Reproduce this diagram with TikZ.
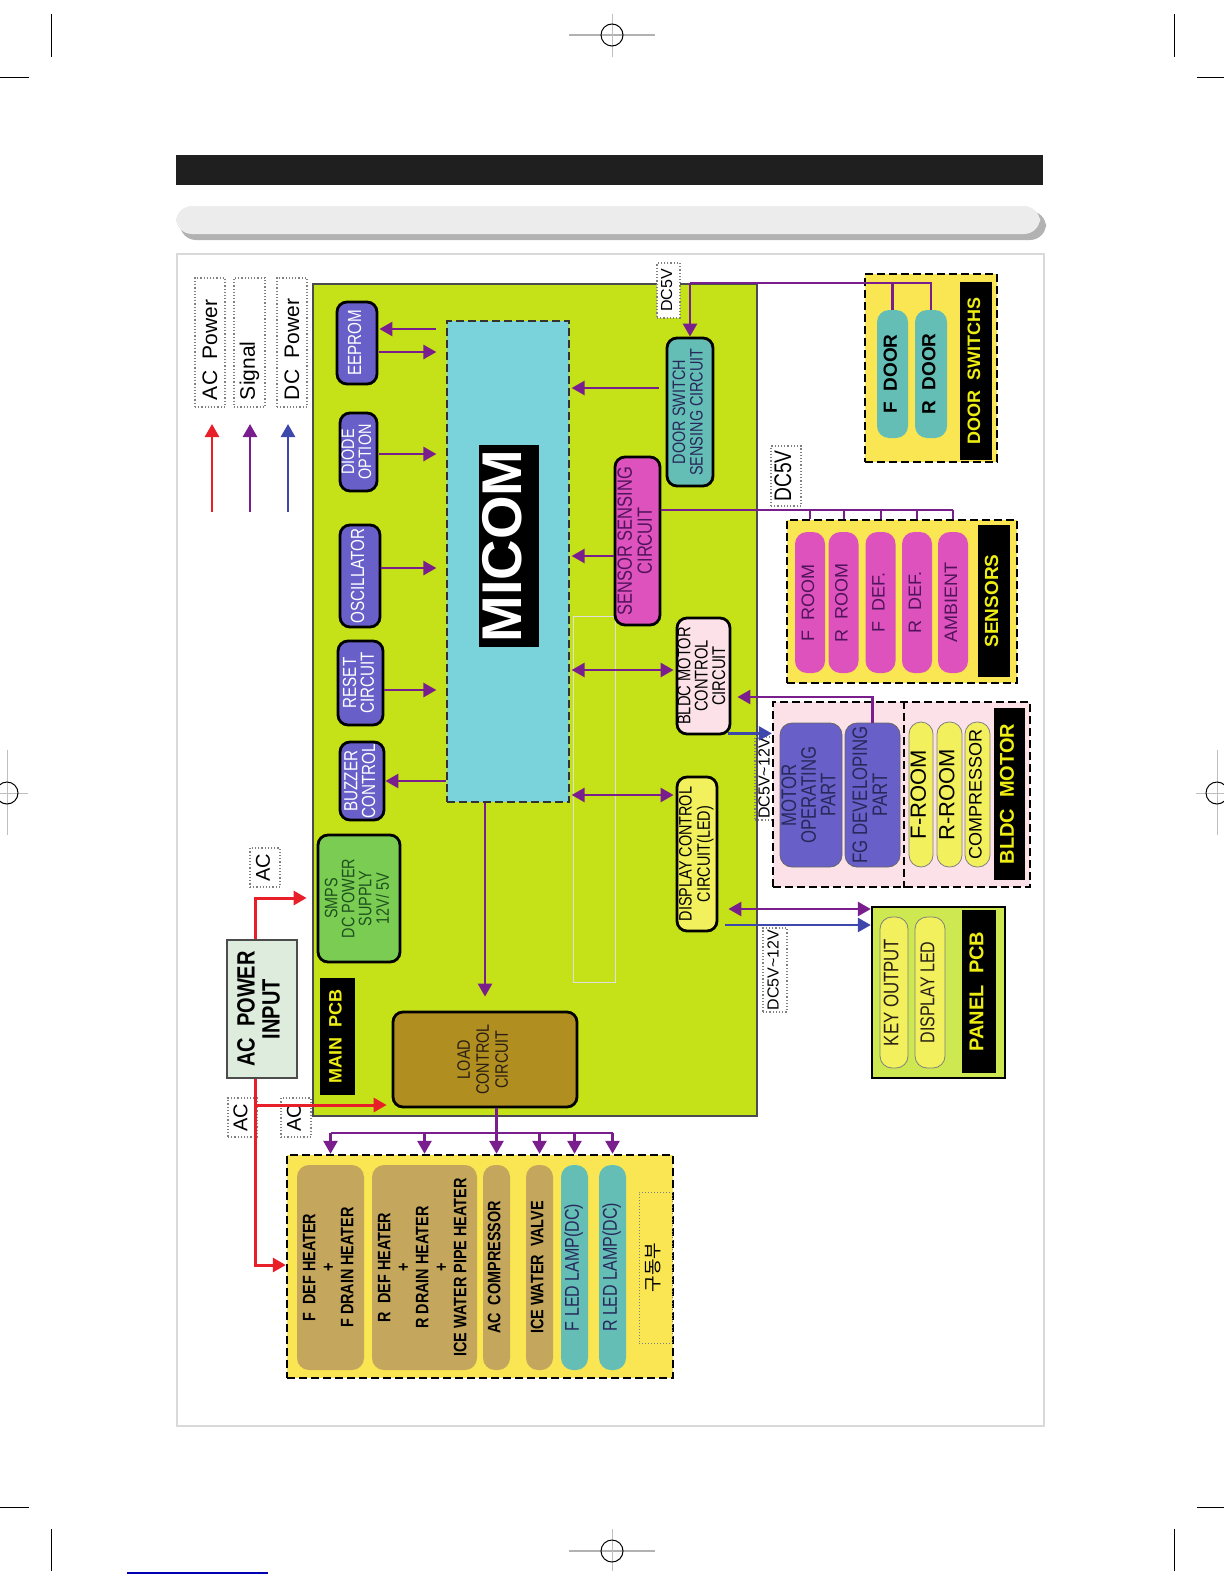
\documentclass[tikz,border=0pt]{standalone}
\usepackage{fontspec}
\setmainfont{Liberation Sans}
\newfontfamily\condfont[FakeStretch=0.8]{Liberation Sans}
\newfontfamily\krfont{Noto Sans CJK KR}
\usepackage{graphicx}
\usepackage{xcolor}
\usepackage{tikz}
\usetikzlibrary{arrows.meta, positioning, calc}

\definecolor{pcbgreen}{RGB}{197,225,24}
\definecolor{micomcyan}{RGB}{122,210,218}
\definecolor{violetbox}{RGB}{104,96,200}
\definecolor{smpsgreen}{RGB}{122,205,82}
\definecolor{loadbrown}{RGB}{176,142,32}
\definecolor{tealbox}{RGB}{100,190,182}
\definecolor{magbox}{RGB}{222,82,190}
\definecolor{pinkbox}{RGB}{252,226,232}
\definecolor{dispyellow}{RGB}{242,240,92}
\definecolor{grpyellow}{RGB}{250,230,82}
\definecolor{panelgreen}{RGB}{205,232,80}
\definecolor{tanpill}{RGB}{196,166,92}
\definecolor{acred}{RGB}{232,30,40}
\definecolor{sigpurple}{RGB}{122,30,142}
\definecolor{dcblue}{RGB}{62,72,172}
\definecolor{lblyellow}{RGB}{238,238,20}
\definecolor{acgreen}{RGB}{222,236,222}
\definecolor{txtnavy}{RGB}{40,40,90}
\definecolor{txtdark}{RGB}{40,30,20}
\definecolor{txtgreen}{RGB}{30,80,30}
\definecolor{txtplum}{RGB}{80,20,90}

\newcommand{\fs}[2]{\fontsize{#1}{#2}\selectfont}
\newcommand{\vt}[1]{\rotatebox{90}{\begin{tabular}{@{}c@{}}#1\end{tabular}}}
\newcommand{\vl}[2]{\rotatebox{90}{\makebox[#1][l]{#2}}}

\begin{document}
\begin{tikzpicture}[x=0.5pt, y=-0.5pt,
    >={Triangle[length=6.5pt,width=7pt]},
    wh/.style 2 args={minimum width=#1*0.5pt, minimum height=#2*0.5pt},
    box/.style={draw=black, line width=1.4pt, rounded corners=5pt, inner sep=0pt},
    pill/.style={rounded corners=6pt, inner sep=0pt},
    grp/.style={draw=black, line width=1.2pt, dash pattern=on 4pt off 2pt, inner sep=0pt},
    tag/.style={fill=black, text=lblyellow, inner sep=0pt},
    vlbl/.style={draw=gray, densely dotted, fill=white, line width=0.6pt, inner sep=0pt},
    sline/.style={sigpurple, line width=1.3pt},
    sarrow/.style={sline, ->},
    sdarrow/.style={sline, <->},
    acarrow/.style={acred, line width=1.5pt, ->},
    dcarrow/.style={dcblue, line width=1.3pt, ->}]
  \useasboundingbox (0,0) rectangle (1224,1584);

  % page marks
  \draw[line width=0.5pt] (51,14) -- (51,57) (1174,14) -- (1174,57) (0,78) -- (29,78) (1197,78) -- (1224,78);
  \draw[line width=0.5pt] (51,1529) -- (51,1571) (1174,1529) -- (1174,1571) (0,1507) -- (29,1507) (1197,1507) -- (1224,1507);
  \draw[gray!60, line width=1pt] (569,35) -- (655,35) (569,1551) -- (655,1551);
  \draw[gray!50, line width=0.4pt] (612,14) -- (612,57) (612,1529) -- (612,1571) (7,750) -- (7,835) (1217,750) -- (1217,835) (0,793) -- (28,793) (1196,793) -- (1224,793);
  \draw[line width=0.5pt] (612,35) circle[radius=5.5pt] (612,1551) circle[radius=5.5pt] (7,793) circle[radius=5.5pt] (1217,793) circle[radius=5.5pt];
  \draw[blue!70!black, line width=1pt] (127,1573) -- (268,1573);

  % header
  \fill[black!88] (176,155) rectangle (1043,185);
  \fill[gray!60, rounded corners=8pt] (180,211) rectangle (1046,240);
  \fill[gray!15, rounded corners=8pt] (176,206) rectangle (1040,234);
  \draw[gray!30, line width=0.8pt] (177,254) rectangle (1044,1426);

  % legend
  \node[vlbl, wh={30}{129}, font=\fs{10.5}{12}] (lgac) at (210,342.5) {\vl{61pt}{\,AC\ \ Power}};
  \node[vlbl, wh={31}{129}, font=\fs{10.5}{12}] (lgsig) at (249.5,342.5) {\vl{61pt}{\,Signal}};
  \node[vlbl, wh={30}{129}, font=\fs{10.5}{12}] (lgdc) at (292,342.5) {\vl{61pt}{\,DC\ \ Power}};
  \coordinate (lga) at (212,512);
  \coordinate (lgs) at (250,512);
  \coordinate (lgd) at (288,512);
  \draw[acarrow, line width=1.3pt] (lga) -- ++(0,-88);
  \draw[sarrow] (lgs) -- ++(0,-88);
  \draw[dcarrow] (lgd) -- ++(0,-88);

  % main pcb
  \node[draw=black!70, line width=1pt, fill=pcbgreen, wh={444}{832}, inner sep=0pt] (mainpcb) at (535,700) {};
  \draw[gray!25, line width=0.5pt] (573,616) rectangle (615,982);
  \node[fill=micomcyan, draw=black!80, line width=1.2pt, dash pattern=on 4pt off 2pt, wh={122}{481}, inner sep=0pt] (micom) at (508,561.5) {};
  \node[fill=black, text=white, wh={58}{202}, inner sep=0pt, font=\bfseries\fs{28}{30}] (miclbl) at (509,546) {\vt{MICOM}};

  \node[box, fill=violetbox, text=white, wh={40}{82}, font=\condfont\fs{9.5}{8}] (eeprom) at (357,343) {\vt{EEPROM}};
  \node[box, fill=violetbox, text=white, wh={37}{78}, font=\condfont\fs{9}{7.5}] (diode) at (358.5,452) {\vt{DIODE\\OPTION}};
  \node[box, fill=violetbox, text=white, wh={40}{102}, font=\condfont\fs{9.5}{8}] (osc) at (360,576) {\vt{OSCILLATOR}};
  \node[box, fill=violetbox, text=white, wh={45}{84}, font=\condfont\fs{9.5}{7.5}] (reset) at (360.5,683) {\vt{RESET\\CIRCUIT}};
  \node[box, fill=violetbox, text=white, wh={44}{78}, font=\condfont\fs{9.5}{7.5}] (buzzer) at (362,781) {\vt{BUZZER\\CONTROL}};
  \node[box, fill=smpsgreen, text=txtgreen, wh={82}{127}, font=\condfont\fs{9}{7.3}] (smps) at (359,898.5) {\vt{SMPS\\DC POWER\\SUPPLY\\12V/ 5V}};
  \node[tag, wh={35}{117}, font=\bfseries\fs{9}{10}] (pcblbl) at (337.5,1036.5) {\vt{MAIN\ \ PCB}};
  \node[box, fill=loadbrown, text=txtdark, wh={184}{95}, font=\condfont\fs{9}{9.5}] (load) at (485,1059.5) {\vt{LOAD\\CONTROL\\CIRCUIT}};
  \node[box, fill=tealbox, text=txtnavy, wh={46}{148}, font=\condfont\fs{9}{8}] (dsense) at (690,412) {\vt{DOOR SWITCH\\SENSING CIRCUIT}};
  \node[box, fill=magbox, text=txtplum, wh={45}{168}, font=\condfont\fs{10.3}{9.5}] (ssense) at (637.5,541) {\vt{SENSOR SENSING\\CIRCUIT}};
  \node[box, fill=pinkbox, text=black, wh={53}{116}, font=\condfont\fs{9.2}{7.5}] (bldcc) at (703.5,676) {\vt{BLDC MOTOR\\CONTROL\\CIRCUIT}};
  \node[box, fill=dispyellow, text=black, wh={40}{154}, font=\condfont\fs{9}{8.5}] (disp) at (697,854) {\vt{DISPLAY CONTROL\\CIRCUIT(LED)}};

  % voltage tags
  \node[vlbl, wh={23}{55}, font=\fs{8}{9}] (dc5a) at (668.5,290.5) {\vt{DC5V}};
  \node[vlbl, wh={30}{60}, font=\condfont\fs{12}{13}] (dc5b) at (786,476) {\vt{DC5V}};
  \node[vlbl, fill=none, wh={22}{83}, font=\fs{8}{9}] (dc12a) at (766,778.5) {\vt{DC5V\textasciitilde12V}};
  \node[vlbl, wh={24}{84}, font=\fs{8}{9}] (dc12b) at (775,970) {\vt{DC5V\textasciitilde12V}};

  % door switches
  \node[grp, fill=grpyellow, wh={132}{188}] (dgrp) at (931,368) {};
  \node[pill, fill=tealbox, wh={31}{128}, font=\bfseries\fs{9.5}{11}] (fdoor) at (892.5,374) {\vt{F\ \ DOOR}};
  \node[pill, fill=tealbox, wh={32}{128}, font=\bfseries\fs{9.5}{11}] (rdoor) at (931,374) {\vt{R\ \ DOOR}};
  \node[tag, wh={32}{178}, font=\bfseries\fs{9}{10}] (dlbl) at (976,371) {\vt{DOOR\ \ SWITCHS}};

  % sensors
  \node[grp, fill=grpyellow, wh={230}{163}] (sgrp) at (902,601.5) {};
  \node[pill, fill=magbox, text=txtplum, wh={30}{141}, font=\fs{9}{10}] (froom) at (810,602.5) {\vt{F\ \ ROOM}};
  \node[pill, fill=magbox, text=txtplum, wh={30}{141}, font=\fs{9}{10}] (rroom) at (843.5,602.5) {\vt{R\ \ ROOM}};
  \node[pill, fill=magbox, text=txtplum, wh={30}{141}, font=\fs{9}{10}] (fdef) at (880.5,602.5) {\vt{F\ \ DEF.}};
  \node[pill, fill=magbox, text=txtplum, wh={30}{141}, font=\fs{9}{10}] (rdef) at (917,602.5) {\vt{R\ \ DEF.}};
  \node[pill, fill=magbox, text=txtplum, wh={30}{141}, font=\fs{9}{10}] (amb) at (953,602.5) {\vt{AMBIENT}};
  \node[tag, wh={32}{152}, font=\bfseries\fs{9.5}{10}] (slbl) at (994,601) {\vt{SENSORS}};

  % bldc motor
  \node[grp, fill=pinkbox, wh={257}{185}] (mgrp) at (901.5,794.5) {};
  \draw[black, line width=1.2pt, dash pattern=on 4pt off 2pt] ($(mgrp.north west)+(132,0)$) -- ($(mgrp.south west)+(132,0)$);
  \node[pill, fill=violetbox, draw=black!60, thin, text=txtnavy, wh={62}{144}, font=\condfont\fs{10.5}{8.5}] (motop) at (811,795) {\vt{MOTOR\\OPERATING\\PART}};
  \node[pill, fill=violetbox, draw=black!60, thin, text=txtnavy, wh={55}{144}, font=\condfont\fs{10.5}{9}] (fgdev) at (872.5,795) {\vt{FG DEVELOPING\\PART}};
  \node[pill, fill=dispyellow, draw=black!50, thin, wh={24}{145}, font=\fs{11}{12}] (froomm) at (921,794.5) {\vt{F-ROOM}};
  \node[pill, fill=dispyellow, draw=black!50, thin, wh={25}{145}, font=\fs{11}{12}] (rroomm) at (949.5,794.5) {\vt{R-ROOM}};
  \node[pill, fill=dispyellow, draw=black!50, thin, wh={25}{145}, font=\fs{9}{10}] (compm) at (977.5,794.5) {\vt{COMPRESSOR}};
  \node[tag, wh={31}{172}, font=\bfseries\fs{10}{11}] (mlbl) at (1009.5,794) {\vt{BLDC\ \ MOTOR}};

  % panel pcb
  \node[draw=black, line width=1.2pt, fill=panelgreen, wh={133}{171}, inner sep=0pt] (panel) at (938.5,992.5) {};
  \node[pill, fill=dispyellow, draw=black!50, thin, text=txtdark, wh={28}{151}, font=\condfont\fs{10.5}{11}] (keyout) at (894,992.5) {\vt{KEY OUTPUT}};
  \node[pill, fill=dispyellow, draw=black!50, thin, text=txtdark, wh={30}{151}, font=\condfont\fs{10}{11}] (dled) at (930,992.5) {\vt{DISPLAY LED}};
  \node[tag, wh={34}{163}, font=\bfseries\fs{10}{11}] (plbl) at (979,991.5) {\vt{PANEL\ \ PCB}};

  % ac input
  \node[draw=black!70, line width=0.8pt, fill=acgreen, wh={70}{138}, inner sep=0pt, font=\condfont\bfseries\fs{12.5}{12.5}] (acin) at (262,1009) {\vt{AC\ \ POWER\\INPUT}};
  \node[vlbl, wh={30}{39}, font=\fs{10}{12}] (acl1) at (265,867.5) {\vt{AC}};
  \node[vlbl, wh={29}{39}, font=\fs{10}{12}] (acl2) at (242.5,1117.5) {\vt{AC}};
  \node[vlbl, wh={30}{39}, font=\fs{10}{12}] (acl3) at (296,1117.5) {\vt{AC}};

  % loads
  \node[grp, fill=grpyellow, wh={386}{223}] (lgrp) at (480,1266.5) {};
  \node[pill, fill=tanpill, wh={67}{205}, font=\condfont\bfseries\fs{9}{9.5}] (fheat) at (330.5,1267.5) {\vt{F\ \ DEF HEATER\\+\\F DRAIN HEATER}};
  \node[pill, fill=tanpill, wh={105}{205}, font=\condfont\bfseries\fs{9}{9.5}] (rheat) at (424.5,1267.5) {\vt{R\ \ DEF HEATER\\+\\R DRAIN HEATER\\+\\ICE WATER PIPE HEATER}};
  \node[pill, fill=tanpill, wh={27}{205}, font=\condfont\bfseries\fs{9}{9.5}] (accomp) at (496.5,1267.5) {\vt{AC\ \ COMPRESSOR}};
  \node[pill, fill=tanpill, wh={27}{205}, font=\condfont\bfseries\fs{9}{9.5}] (icev) at (539.5,1267.5) {\vt{ICE WATER\ \ VALVE}};
  \node[pill, fill=tealbox, text=txtnavy, wh={27}{205}, font=\condfont\fs{10}{11}] (fled) at (574.5,1267.5) {\vt{F LED LAMP(DC)}};
  \node[pill, fill=tealbox, text=txtnavy, wh={27}{205}, font=\condfont\fs{10}{11}] (rled) at (612.5,1267.5) {\vt{R LED LAMP(DC)}};
  \node[draw=gray, densely dotted, line width=0.5pt, inner sep=0pt, wh={33}{151}, font=\krfont\fs{9}{10}] (drive) at (655.5,1267.5) {\vt{구동부}};

  % signal lines
  \draw[sarrow] ($(eeprom.east)+(58,-14)$) -- ($(eeprom.east)+(1,-14)$);
  \draw[sarrow] ($(eeprom.east)+(1,9)$) -- ($(eeprom.east)+(58,9)$);
  \draw[sarrow] ($(diode.east)+(1,2)$) -- ++(57,0);
  \draw[sarrow] ($(osc.east)+(0,-8)$) -- ++(55,0);
  \draw[sarrow] ($(reset.east)+(0,7)$) -- ++(52,0);
  \draw[sarrow] (micom.west |- buzzer.east) -- (buzzer.east);
  \draw[sarrow] ($(dsense.west)+(-7,-24)$) -- ++(-87,0);
  \draw[sarrow] ($(ssense.west)+(0,15)$) -- ++(-42,0);
  \draw[sdarrow] ($(bldcc.west)+(-2,-6)$) -- ++(-102,0);
  \draw[sdarrow] ($(disp.west)+(-2,-59)$) -- ++(-102,0);
  \draw[sarrow, shorten >=7pt] (load.north |- micom.south) -- (load.north);

  \coordinate (dtop) at (690,283);
  \draw[sline] (dsense.north |- dtop) -- (rdoor.north |- dtop) -- (rdoor.north);
  \draw[sline] (fdoor.north |- dtop) -- (fdoor.north);
  \draw[sarrow] (dsense.north |- dtop) -- (dsense.north);

  \coordinate (sbus) at (700,510);
  \draw[sline] (ssense.east |- sbus) -- (amb.north |- sbus);
  \foreach \s in {froom,rroom,fdef,rdef,amb}
    \draw[sline, line width=1pt] (\s.north |- sbus) -- (\s.north |- sgrp.north);

  \coordinate (fgup) at (873,697);
  \draw[sarrow, shorten >=3pt] (fgdev.north) -- (fgdev.north |- fgup) -- (bldcc.east |- fgup);
  \path ($(bldcc.south east)+(-3,-2)$) coordinate (bb);
  \draw[dcarrow] (bb) -- (bb -| mgrp.west);

  \path ($(disp.east)+(10,55)$) coordinate (dp1);
  \draw[sdarrow] (dp1) -- (dp1 -| panel.west);
  \path ($(disp.east)+(7,71)$) coordinate (dp2);
  \draw[dcarrow] (dp2) -- (dp2 -| panel.west);

  \coordinate (lbus) at (496.5,1133);
  \draw[sline] (load.south -| lbus) -- (lbus);
  \draw[sline] (fheat.north |- lbus) -- (rled.north |- lbus);
  \foreach \l in {fheat,rheat,accomp,icev,fled,rled}
    \draw[sarrow] (\l.north |- lbus) -- (\l.north |- lgrp.north);

  % ac power lines
  \coordinate (acup) at (255,898);
  \coordinate (acbr) at (255,1105);
  \coordinate (acdn) at (255,1265);
  \draw[acarrow, shorten >=5pt] (acin.north -| acup) -- (acup) -- (smps.west |- acup);
  \draw[acarrow] (acin.south -| acdn) -- (acdn) -- (lgrp.west |- acdn);
  \draw[acarrow, shorten >=2.5pt] (acbr) -- (load.west |- acbr);
\end{tikzpicture}
\end{document}
